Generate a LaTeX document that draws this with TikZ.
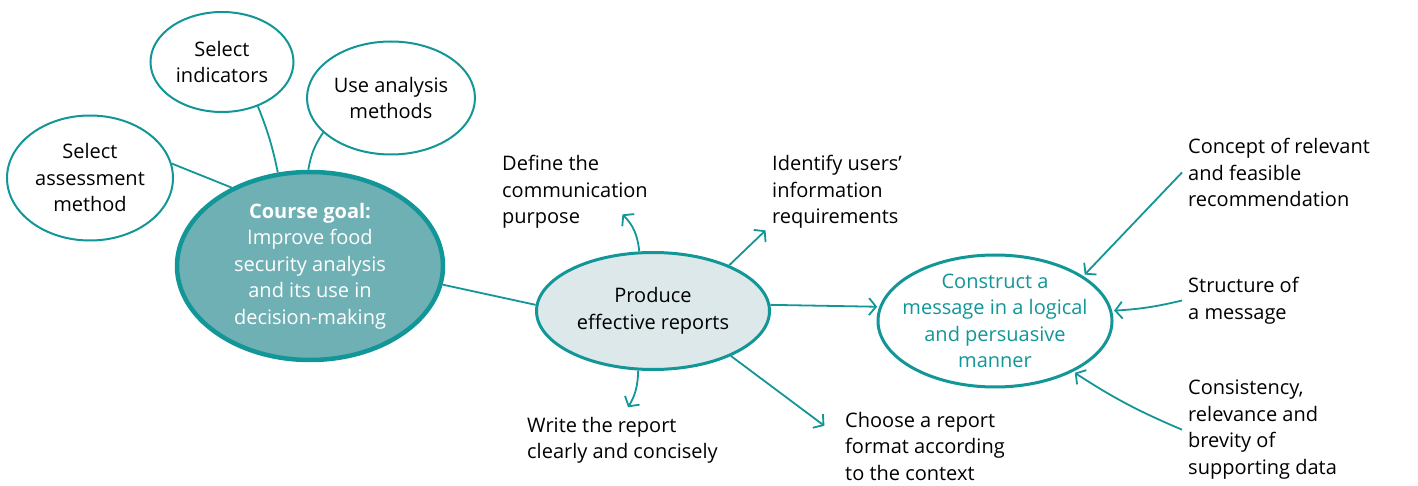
\documentclass[tikz,border=0pt]{standalone}
\usepackage{fontspec}
\setmainfont{Open Sans}
\usepackage{tikz}
\usetikzlibrary{shapes.geometric, arrows.meta, positioning}

\definecolor{mapteal}{RGB}{18,150,152}
\definecolor{goalfill}{RGB}{111,176,180}
\definecolor{reportfill}{RGB}{221,232,234}

\begin{document}
\begin{tikzpicture}[x=1pt, y=-1pt,
    every node/.style={font=\fontsize{20}{26.5}\selectfont},
    bubble/.style={ellipse, draw=mapteal, line width=2pt, fill=white, align=center, inner sep=-20pt},
    goal/.style={bubble, line width=4.5pt, fill=goalfill, text=white},
    topic/.style={bubble, line width=3pt},
    note/.style={anchor=north west, align=left, inner sep=6pt},
    link/.style={draw=mapteal, line width=1.8pt},
    arrow/.style={link, -{Straight Barb[length=7pt,width=17pt]}, shorten >=2pt}
]
\useasboundingbox (0,0) rectangle (1418,486);

% Course goal and its parts
\node[goal, minimum width=266, minimum height=188] (goal) at (310,266) {\textbf{Course goal:}\\Improve food\\security analysis\\and its use in\\decision-making};
\node[bubble, minimum width=143, minimum height=100] (indicators) at (222,62) {Select\\indicators};
\node[bubble, minimum width=168, minimum height=113] (analysis) at (391,98) {Use analysis\\methods};
\node[bubble, minimum width=166, minimum height=125] (assess) at (90,178) {Select\\assessment\\method};

% Reports
\node[topic, fill=reportfill, minimum width=233, minimum height=117] (report) at (653,311) {Produce\\effective reports};
\node[note] (define) at (496,149) {Define the\\communication\\purpose};
\node[note] (identify) at (766,149) {Identify users'\\information\\requirements};
\node[note] (write) at (521,411) {Write the report\\clearly and concisely};
\node[note] (choose) at (839,406) {Choose a report\\format according\\to the context};

% Message
\node[topic, text=mapteal, minimum width=234, minimum height=132] (message) at (995,321) {Construct a\\message in a logical\\and persuasive\\manner};
\node[note] (concept) at (1182,132) {Concept of relevant\\and feasible\\recommendation};
\node[note] (structure) at (1182,271) {Structure of\\a message};
\node[note] (consist) at (1182,374) {Consistency,\\relevance and\\brevity of\\supporting data};

% Arrow tips next to the notes
\coordinate (defineTip) at (621,213);
\coordinate (identifyTip) at (767,229);
\coordinate (writeTip) at (627,409);
\coordinate (chooseTip) at (826,427);

% Connections
\draw[link] (assess.10) -- (goal.135);
\draw[link] (indicators.-51) to[bend left=5] (goal.109);
\draw[link] (analysis.207) to[bend right=12] (goal.91);
\draw[link] (goal.-8) -- (report.177);

\draw[arrow] (report.103) to[bend right=20] (defineTip);
\draw[arrow] (report.31) -- (identifyTip);
\draw[arrow] (report.-104) to[bend left=15] (writeTip);
\draw[arrow] (report.-30) -- (chooseTip);
\draw[arrow] (report.3) -- (message.173);

\draw[arrow] (concept.west) -- (message.27);
\draw[arrow] (structure.west) to[bend left=5] (message.5);
\draw[arrow] (consist.west) to[bend left=5] (message.-33);

\end{tikzpicture}
\end{document}
